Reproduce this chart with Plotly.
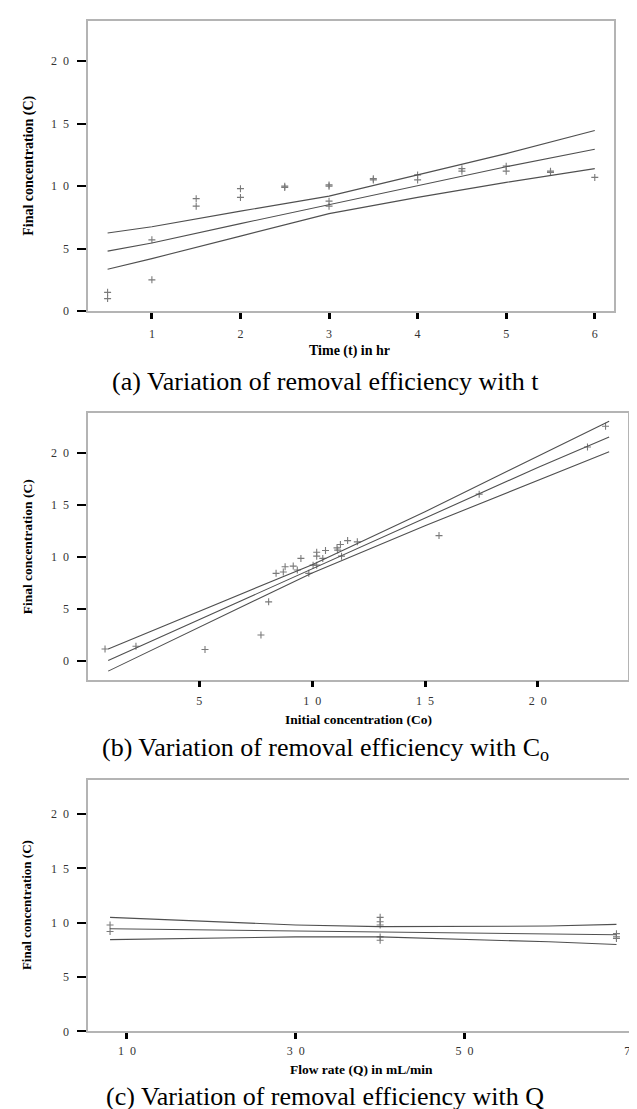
import plotly.graph_objects as go

# ---------------- Data ----------------
# (a) Final concentration vs time
t_hours = [0.5, 0.5, 1, 1, 1.5, 1.5, 2, 2, 2.5, 2.5, 3, 3, 3, 3,
           3.5, 3.5, 4, 4, 4.5, 4.5, 5, 5, 5.5, 5.5, 6]
conc_a = [1.5, 1.0, 5.7, 2.5, 9.0, 8.4, 9.8, 9.1, 10.0, 9.9, 10.1, 10.0, 8.8, 8.4,
          10.6, 10.5, 10.9, 10.5, 11.4, 11.2, 11.6, 11.2, 11.2, 11.1, 10.7]
fit_x_a = [0.5, 1, 2, 3, 4, 5, 6]
fit_a = [4.8, 5.45, 7.0, 8.5, 10.0, 11.55, 12.95]
upper_a = [6.25, 6.75, 8.0, 9.2, 10.9, 12.6, 14.45]
lower_a = [3.35, 4.2, 6.0, 7.8, 9.1, 10.3, 11.4]

# (b) Final concentration vs initial concentration
co = [0.82, 2.19, 5.25, 7.73, 8.07, 8.40, 8.72, 8.80, 9.16, 9.34, 9.5, 9.85, 10.04, 10.2,
      10.2, 10.2, 10.47, 10.59, 11.1, 11.13, 11.25, 11.3, 11.57, 12.0, 15.62, 17.4, 22.2, 23.0]
conc_b = [1.12, 1.38, 1.06, 2.46, 5.66, 8.41, 8.54, 9.05, 9.11, 8.73, 9.85, 8.41, 9.2, 9.2,
          10.45, 10.07, 9.85, 10.61, 10.87, 10.65, 11.19, 10.07, 11.57, 11.45, 12.05, 16.05, 20.6, 22.6]
fit_x_b = [0.96, 5, 10, 15, 20, 23.16]
fit_b = [0.0, 3.96, 8.85, 13.8, 18.63, 21.57]
upper_b = [1.12, 4.78, 9.25, 14.35, 19.72, 23.08]
lower_b = [-1.02, 3.2, 8.45, 13.0, 17.38, 20.13]

# (c) Final concentration vs flow rate
q_flow = [8, 8, 40, 40, 40, 40, 40, 68, 68, 68]
conc_c = [9.8, 9.2, 10.5, 10.1, 9.8, 8.7, 8.4, 9.0, 8.7, 8.55]
fit_x_c = [8, 20, 30, 40, 50, 60, 68]
fit_c = [9.45, 9.34, 9.25, 9.16, 9.07, 8.98, 8.9]
upper_c = [10.5, 10.1, 9.8, 9.65, 9.65, 9.7, 9.85]
lower_c = [8.45, 8.6, 8.7, 8.7, 8.5, 8.25, 8.0]

# tick labels (digits are widely spaced in the original)
SP = "\u00a0\u00a0"
y_tickvals = [0, 5, 10, 15, 20]
y_ticktext = ["0", "5", "1" + SP + "0", "1" + SP + "5", "2" + SP + "0"]
xa_tickvals = [1, 2, 3, 4, 5, 6]
xa_ticktext = ["1", "2", "3", "4", "5", "6"]
xb_tickvals = [5, 10, 15, 20]
xb_ticktext = ["5", "1" + SP + "0", "1" + SP + "5", "2" + SP + "0"]
xc_tickvals = [10, 30, 50, 70]
xc_ticktext = ["1" + SP + "0", "3" + SP + "0", "5" + SP + "0", "7" + SP + "0"]

# ---------------- Figure ----------------
W, H = 637, 1109
SERIF = "Liberation Serif"


def px(xp):
    return xp / W


def py(yp):
    return 1 - yp / H


POINT = dict(symbol="cross-thin", size=5, line=dict(width=1.1, color="#7a7a7a"))
LINE = dict(color="#505050", width=1.1)

fig = go.Figure()
panels = [
    ("x", "y", t_hours, conc_a, fit_x_a, fit_a, upper_a, lower_a),
    ("x2", "y2", co, conc_b, fit_x_b, fit_b, upper_b, lower_b),
    ("x3", "y3", q_flow, conc_c, fit_x_c, fit_c, upper_c, lower_c),
]
for xa, ya, xs, ys, fx, fc, fu, fl in panels:
    fig.add_trace(go.Scatter(x=xs, y=ys, mode="markers", marker=POINT,
                             xaxis=xa, yaxis=ya, showlegend=False, hoverinfo="skip"))
    for line_y in (fu, fc, fl):
        fig.add_trace(go.Scatter(x=fx, y=line_y, mode="lines", line=LINE,
                                 xaxis=xa, yaxis=ya, showlegend=False, hoverinfo="skip"))

TICKFONT = dict(family=SERIF, size=12, color="#333333")


def xaxis(domain, rng, tv, tt, anchor, standoff):
    return dict(domain=domain, range=rng, tickvals=tv, ticktext=tt, tickfont=TICKFONT,
                ticks="outside", ticklen=6, tickwidth=3, tickcolor="black",
                ticklabelstandoff=standoff, ticklabeloverflow="allow",
                showline=True, linecolor="#b4b4b4", linewidth=1.5, mirror=True,
                showgrid=False, zeroline=False, fixedrange=True, anchor=anchor)


def yaxis(domain, rng, anchor):
    return dict(domain=domain, range=rng, tickvals=y_tickvals, ticktext=y_ticktext,
                tickfont=TICKFONT, ticks="outside", ticklen=9, tickwidth=2,
                tickcolor="black", ticklabelstandoff=6,
                showline=True, linecolor="#b4b4b4", linewidth=1.5,
                mirror=True, showgrid=False, zeroline=False, anchor=anchor,
                fixedrange=True)


fig.update_layout(
    width=W, height=H,
    margin=dict(l=0, r=0, t=0, b=0),
    paper_bgcolor="white", plot_bgcolor="white",
    font=dict(family=SERIF),
    xaxis=xaxis([px(81), px(613)], [0.28, 6.22], xa_tickvals, xa_ticktext, "y", 5),
    yaxis=yaxis([py(305), py(13.3)], [0, 23.2], "x"),
    xaxis2=xaxis([px(81), px(627)], [0.07, 24.0], xb_tickvals, xb_ticktext, "y2", 3),
    yaxis2=yaxis([py(676), py(407.3)], [-1.85, 23.9], "x2"),
    xaxis3=xaxis([px(81), px(634)], [5.4, 70.2], xc_tickvals, xc_ticktext, "y3", 1),
    yaxis3=yaxis([py(1030), py(777.3)], [0, 23.1], "x3"),
)

BOLD = dict(family=SERIF, size=14, color="black")
CAP = dict(family=SERIF, size=26, color="black")

annots = [
    # x titles
    (px(345), py(345), "<b>Time (t) in hr</b>", BOLD, 0),
    (px(354), py(716), "<b>Initial concentration (Co)</b>", dict(BOLD, size=13.5), 0),
    (px(357), py(1068), "<b>Flow rate (Q) in mL/min</b>", dict(BOLD, size=13.5), 0),
    # y titles
    (px(21), py(159), "<b>Final concentration (C)</b>", dict(BOLD, size=14), -90),
    (px(20), py(542), "<b>Final concentration (C)</b>", dict(BOLD, size=13.5), -90),
    (px(18), py(903), "<b>Final concentration (C)</b>", dict(BOLD, size=13), -90),
    # captions
    (px(321), py(376), "(a) Variation of removal efficiency with t", CAP, 0),
    (px(321), py(746), "(b) Variation of removal efficiency with C<sub>o</sub>", CAP, 0),
    (px(321), py(1095), "(c) Variation of removal efficiency with Q", CAP, 0),
]
for x, y, text, font, ang in annots:
    fig.add_annotation(x=x, y=y, xref="paper", yref="paper", text=text, showarrow=False,
                       font=font, textangle=ang, xanchor="center", yanchor="middle")

fig.write_html("out.html")
